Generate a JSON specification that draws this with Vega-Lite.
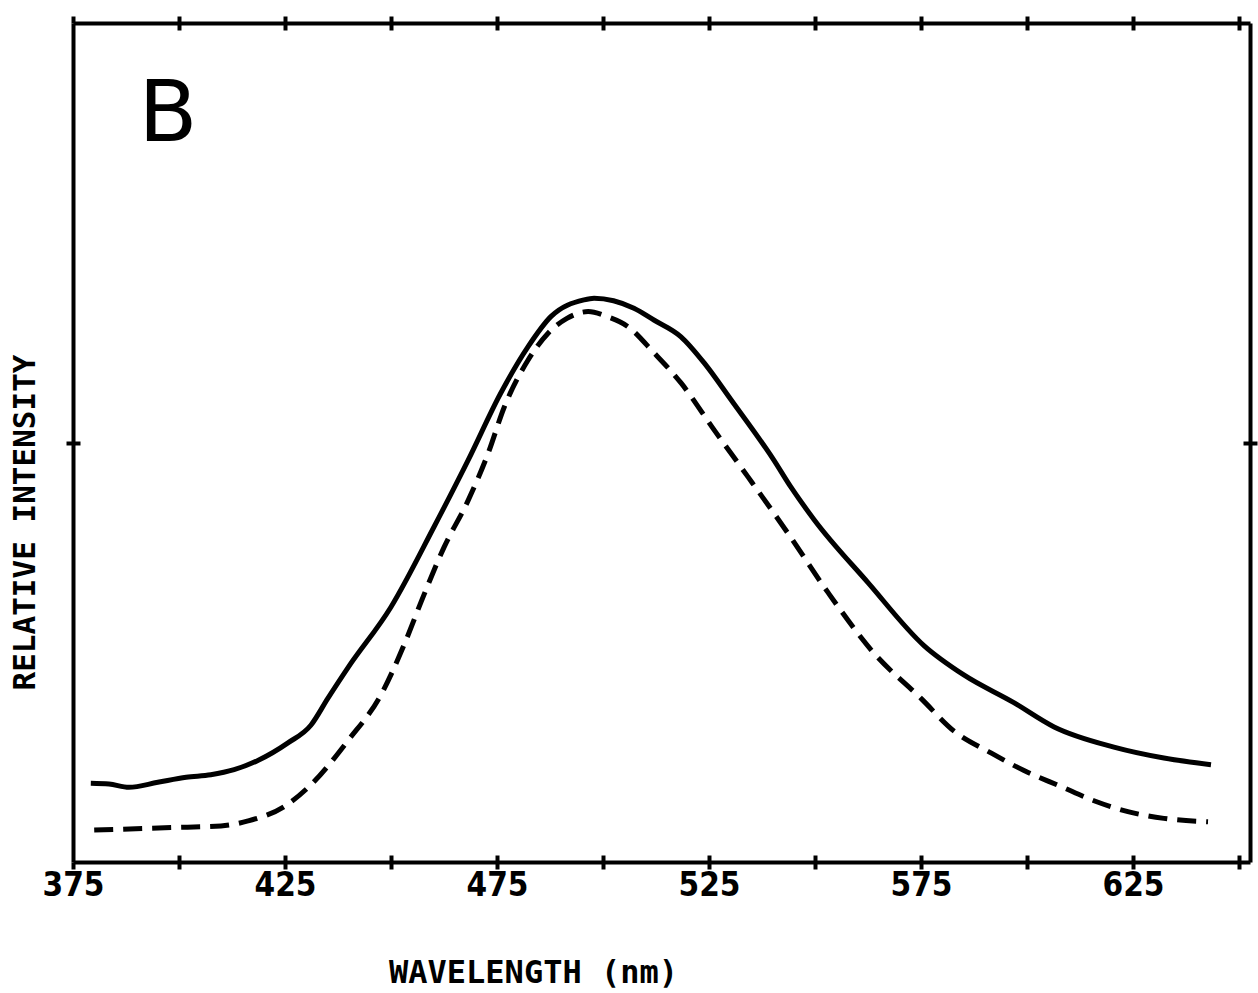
{
  "$schema": "https://vega.github.io/schema/vega-lite/v6.json",
  "width": 1177,
  "height": 839,
  "autosize": {"type": "none"},
  "padding": {"left": 73, "top": 23, "right": 8, "bottom": 131},
  "background": "white",
  "config": {
    "view": {"stroke": null},
    "axis": {
      "grid": false,
      "domainColor": "black",
      "domainWidth": 4,
      "tickColor": "black",
      "tickWidth": 4,
      "tickSize": 7,
      "labelColor": "black",
      "titleColor": "black"
    }
  },
  "datasets": {
    "spectra": [
      {"series": "solid", "wl": 379.2, "v": 0.094},
      {"series": "solid", "wl": 383.5, "v": 0.093},
      {"series": "solid", "wl": 388.2, "v": 0.089},
      {"series": "solid", "wl": 395.0, "v": 0.095},
      {"series": "solid", "wl": 401.7, "v": 0.101},
      {"series": "solid", "wl": 407.5, "v": 0.104},
      {"series": "solid", "wl": 413.0, "v": 0.110},
      {"series": "solid", "wl": 418.6, "v": 0.121},
      {"series": "solid", "wl": 425.7, "v": 0.142},
      {"series": "solid", "wl": 431.1, "v": 0.163},
      {"series": "solid", "wl": 435.1, "v": 0.195},
      {"series": "solid", "wl": 439.9, "v": 0.232},
      {"series": "solid", "wl": 450.0, "v": 0.304},
      {"series": "solid", "wl": 460.1, "v": 0.399},
      {"series": "solid", "wl": 468.2, "v": 0.479},
      {"series": "solid", "wl": 475.9, "v": 0.559},
      {"series": "solid", "wl": 482.3, "v": 0.614},
      {"series": "solid", "wl": 487.7, "v": 0.650},
      {"series": "solid", "wl": 495.5, "v": 0.670},
      {"series": "solid", "wl": 497.9, "v": 0.672},
      {"series": "solid", "wl": 502.5, "v": 0.669},
      {"series": "solid", "wl": 507.3, "v": 0.660},
      {"series": "solid", "wl": 512.0, "v": 0.646},
      {"series": "solid", "wl": 518.4, "v": 0.626},
      {"series": "solid", "wl": 524.0, "v": 0.594},
      {"series": "solid", "wl": 530.2, "v": 0.551},
      {"series": "solid", "wl": 540.3, "v": 0.479},
      {"series": "solid", "wl": 544.3, "v": 0.447},
      {"series": "solid", "wl": 549.8, "v": 0.408},
      {"series": "solid", "wl": 562.5, "v": 0.333},
      {"series": "solid", "wl": 575.7, "v": 0.258},
      {"series": "solid", "wl": 585.1, "v": 0.223},
      {"series": "solid", "wl": 596.9, "v": 0.190},
      {"series": "solid", "wl": 606.4, "v": 0.161},
      {"series": "solid", "wl": 620.5, "v": 0.137},
      {"series": "solid", "wl": 632.3, "v": 0.124},
      {"series": "solid", "wl": 643.4, "v": 0.116},
      {"series": "dashed", "wl": 380.0, "v": 0.038},
      {"series": "dashed", "wl": 398.1, "v": 0.041},
      {"series": "dashed", "wl": 409.9, "v": 0.043},
      {"series": "dashed", "wl": 416.3, "v": 0.049},
      {"series": "dashed", "wl": 424.8, "v": 0.066},
      {"series": "dashed", "wl": 431.1, "v": 0.092},
      {"series": "dashed", "wl": 439.9, "v": 0.145},
      {"series": "dashed", "wl": 447.6, "v": 0.199},
      {"series": "dashed", "wl": 453.1, "v": 0.259},
      {"series": "dashed", "wl": 457.1, "v": 0.310},
      {"series": "dashed", "wl": 462.5, "v": 0.375},
      {"series": "dashed", "wl": 468.2, "v": 0.431},
      {"series": "dashed", "wl": 472.9, "v": 0.487},
      {"series": "dashed", "wl": 476.7, "v": 0.542},
      {"series": "dashed", "wl": 482.3, "v": 0.598},
      {"series": "dashed", "wl": 487.0, "v": 0.630},
      {"series": "dashed", "wl": 491.5, "v": 0.648},
      {"series": "dashed", "wl": 496.5, "v": 0.656},
      {"series": "dashed", "wl": 501.0, "v": 0.650},
      {"series": "dashed", "wl": 505.9, "v": 0.638},
      {"series": "dashed", "wl": 512.0, "v": 0.607},
      {"series": "dashed", "wl": 518.4, "v": 0.571},
      {"series": "dashed", "wl": 526.2, "v": 0.515},
      {"series": "dashed", "wl": 534.2, "v": 0.459},
      {"series": "dashed", "wl": 543.6, "v": 0.392},
      {"series": "dashed", "wl": 553.1, "v": 0.321},
      {"series": "dashed", "wl": 563.9, "v": 0.249},
      {"series": "dashed", "wl": 575.0, "v": 0.195},
      {"series": "dashed", "wl": 582.8, "v": 0.156},
      {"series": "dashed", "wl": 591.5, "v": 0.130},
      {"series": "dashed", "wl": 599.3, "v": 0.109},
      {"series": "dashed", "wl": 608.0, "v": 0.090},
      {"series": "dashed", "wl": 615.8, "v": 0.073},
      {"series": "dashed", "wl": 623.8, "v": 0.060},
      {"series": "dashed", "wl": 632.3, "v": 0.052},
      {"series": "dashed", "wl": 642.7, "v": 0.048}
    ],
    "panel": [
      {"label": "B", "wl": 397.4, "v": 0.89}
    ]
  },
  "resolve": {"axis": {"x": "independent", "y": "independent"}},
  "layer": [
    {
      "data": {"name": "spectra"},
      "transform": [{"filter": "datum.series === 'solid'"}],
      "mark": {"type": "line", "color": "black", "strokeWidth": 5, "interpolate": "monotone"},
      "encoding": {
        "x": {
          "field": "wl", "type": "quantitative",
          "scale": {"domain": [375, 652.6], "nice": false, "zero": false},
          "axis": {
            "orient": "bottom",
            "values": [375, 400, 425, 450, 475, 500, 525, 550, 575, 600, 625, 650],
            "labelExpr": "(datum.value - 375) % 50 === 0 && datum.value < 650 ? datum.label : ''",
            "labelFont": "DejaVu Sans Condensed",
            "labelFontWeight": "bold",
            "labelFontSize": 33,
            "labelPadding": 0,
            "labelFlush": false,
            "labelOverlap": false,
            "title": "WAVELENGTH (nm)",
            "titleFont": "DejaVu Sans Mono",
            "titleFontWeight": "bold",
            "titleFontSize": 32,
            "titleAnchor": "start",
            "titleAlign": "center",
            "titleX": 460,
            "titleY": 120,
            "titleBaseline": "alphabetic"
          }
        },
        "y": {
          "field": "v", "type": "quantitative",
          "scale": {"domain": [0, 1], "nice": false},
          "axis": {
            "orient": "left",
            "values": [0.5],
            "labels": false,
            "title": "RELATIVE INTENSITY",
            "titleFont": "DejaVu Sans Mono",
            "titleFontWeight": "bold",
            "titleFontSize": 31,
            "titleAlign": "center",
            "titleX": -48,
            "titleY": 499,
            "titleAngle": -90,
            "titleBaseline": "middle"
          }
        }
      }
    },
    {
      "data": {"name": "spectra"},
      "transform": [{"filter": "datum.series === 'dashed'"}],
      "mark": {"type": "line", "color": "black", "strokeWidth": 5, "strokeDash": [19, 10], "interpolate": "monotone"},
      "encoding": {
        "x": {
          "field": "wl", "type": "quantitative",
          "axis": {"orient": "top", "values": [375, 400, 425, 450, 475, 500, 525, 550, 575, 600, 625, 650], "labels": false, "title": null}
        },
        "y": {
          "field": "v", "type": "quantitative",
          "axis": {"orient": "right", "values": [0.5], "labels": false, "title": null}
        }
      }
    },
    {
      "data": {"name": "panel"},
      "mark": {"type": "text", "font": "DejaVu Sans", "fontSize": 86, "fontWeight": "normal", "color": "black", "align": "center", "baseline": "middle"},
      "encoding": {
        "text": {"field": "label"},
        "x": {
          "field": "wl", "type": "quantitative",
          "axis": {"orient": "bottom", "values": [400, 425, 450, 475, 500, 525, 550, 575, 600, 625, 650], "tickSize": -7, "domain": false, "labels": false, "title": null}
        },
        "y": {
          "field": "v", "type": "quantitative",
          "axis": {"orient": "left", "values": [0.5], "tickSize": -7, "domain": false, "labels": false, "title": null}
        }
      }
    },
    {
      "data": {"name": "panel"},
      "mark": {"type": "point", "opacity": 0},
      "encoding": {
        "x": {
          "field": "wl", "type": "quantitative",
          "axis": {"orient": "top", "values": [400, 425, 450, 475, 500, 525, 550, 575, 600, 625, 650], "tickSize": -7, "domain": false, "labels": false, "title": null}
        },
        "y": {
          "field": "v", "type": "quantitative",
          "axis": {"orient": "right", "values": [0.5], "tickSize": -7, "domain": false, "labels": false, "title": null}
        }
      }
    }
  ]
}
